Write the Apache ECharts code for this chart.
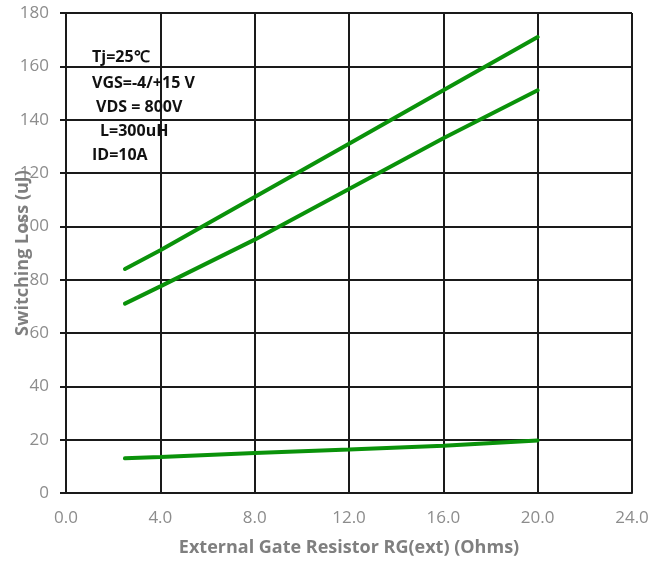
<!DOCTYPE html>
<html><head><meta charset="utf-8">
<script src="https://cdn.jsdelivr.net/npm/echarts@6/dist/echarts.min.js"></script>
<style>html,body{margin:0;padding:0;background:#fff}#c{width:657px;height:563px}</style>
</head><body><div id="c"></div>
<script>
const rgValues = [2.5, 4, 8, 12, 16, 20];
const lossTop = [84, 91, 111, 131, 151, 171];
const lossMid = [71, 77.5, 95, 114, 133, 151];
const lossLow = [13, 13.5, 15, 16.3, 17.7, 19.7];
const xTicks = [0, 4, 8, 12, 16, 20, 24];
const yTicks = [0, 20, 40, 60, 80, 100, 120, 140, 160, 180];
const notes = ['Tj=25\u2103', 'VGS=-4/+15 V', 'VDS = 800V', 'L=300uH', 'ID=10A'];
const xTitle = 'External Gate Resistor RG(ext) (Ohms)';
const yTitle = 'Switching Loss (uJ)';

const chart = echarts.init(document.getElementById('c'), null, {renderer: 'canvas'});
const pair = arr => rgValues.map((x, i) => [x, arr[i]]);
const lineStyle = {color: '#0a920a', width: 4, cap: 'round'};
const mk = (name, arr) => ({name, type: 'line', data: pair(arr), symbol: 'none', lineStyle, itemStyle: {color: '#0a920a'}, z: 5});
const noteX = [92, 92, 96, 100, 92];
const noteY = [57, 83, 107, 131, 155];
chart.setOption({
  animation: false,
  grid: {left: 66, right: 25, top: 13, bottom: 70, containLabel: false},
  xAxis: {
    type: 'value', min: 0, max: 24, interval: 4,
    axisLine: {show: true, onZero: false, lineStyle: {color: '#1a1a1a', width: 2}},
    axisTick: {show: false},
    splitLine: {show: true, lineStyle: {color: '#1a1a1a', width: 2}},
    axisLabel: {color: '#8c8c8c', fontSize: 17, fontFamily: 'Open Sans', margin: 17,
      formatter: v => v.toFixed(1)},
    name: xTitle, nameLocation: 'middle', nameGap: 46,
    nameTextStyle: {color: '#7f7f7f', fontSize: 18, fontWeight: 'bold', fontFamily: 'Open Sans'}
  },
  yAxis: {
    type: 'value', min: 0, max: 180, interval: 20,
    axisLine: {show: true, onZero: false, lineStyle: {color: '#1a1a1a', width: 2}},
    axisTick: {show: true, length: 6, lineStyle: {color: '#1a1a1a', width: 2}},
    splitLine: {show: true, lineStyle: {color: '#1a1a1a', width: 2}},
    axisLabel: {color: '#8c8c8c', fontSize: 17, fontFamily: 'Open Sans', margin: 17}
  },
  graphic: [
    {type: 'text', x: 23, y: 253, rotation: Math.PI / 2, z: 10,
      style: {text: yTitle, fill: '#7f7f7f', font: 'bold 18px "Open Sans"', textAlign: 'center', textVerticalAlign: 'middle'}},
    ...notes.map((t, i) => ({type: 'text', x: noteX[i], y: noteY[i], z: 10,
      style: {text: t, fill: '#111', font: 'bold 16px "Open Sans"', textAlign: 'left', textVerticalAlign: 'middle'}}))
  ],
  series: [mk('top', lossTop), mk('mid', lossMid), mk('low', lossLow)]
});
</script></body></html>
